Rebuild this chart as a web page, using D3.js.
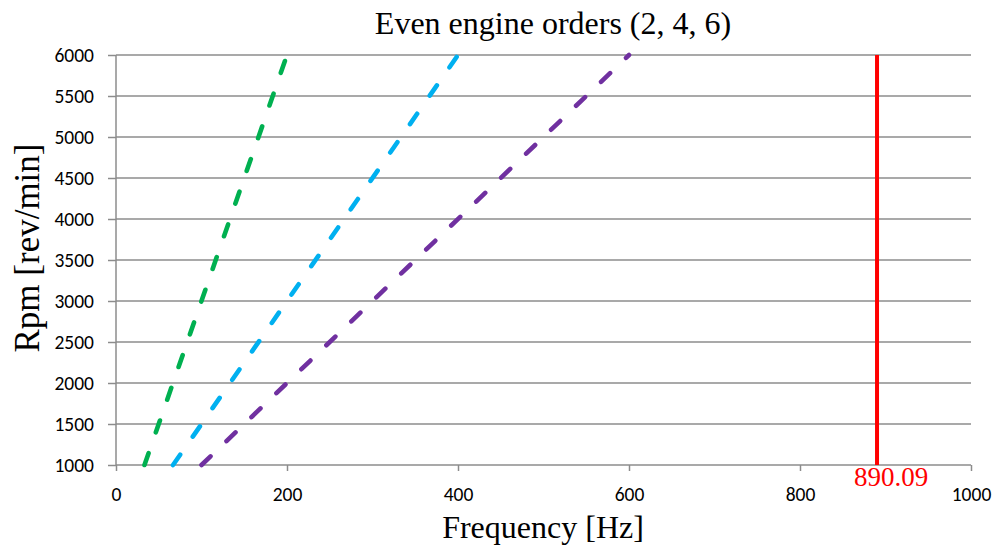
<!DOCTYPE html>
<html>
<head>
<meta charset="utf-8">
<script src="https://cdn.jsdelivr.net/npm/d3@7"></script>
<style>
  body { margin: 0; background: #fff; }
</style>
</head>
<body>
<div id="chart"></div>
<script>
// chart data
var rpm = [1000, 6000];
var order2Freq = [33.3, 200];
var order4Freq = [66.7, 400];
var order6Freq = [100, 600];
var limitFreq = 890.09;
var xTicks = [0, 200, 400, 600, 800, 1000];
var yTicks = [1000, 1500, 2000, 2500, 3000, 3500, 4000, 4500, 5000, 5500, 6000];

var series = [
    { name: "order 2", freq: order2Freq, color: "#00b050" },
    { name: "order 4", freq: order4Freq, color: "#00b0f0" },
    { name: "order 6", freq: order6Freq, color: "#7030a0" }
];

var svgWidth = 1000;
var svgHeight = 550;

var margin = { top: 55, right: 29, bottom: 85, left: 116 };
var chartWidth = svgWidth - margin.left - margin.right;
var chartHeight = svgHeight - margin.top - margin.bottom;

var svg = d3.select("#chart")
    .append("svg")
    .attr("width", svgWidth)
    .attr("height", svgHeight);

var chartGroup = svg.append("g")
    .attr("transform", `translate(${margin.left}, ${margin.top})`);

var xScale = d3.scaleLinear().domain([0, 1000]).range([0, chartWidth]);
var yScale = d3.scaleLinear().domain([1000, 6000]).range([chartHeight, 0]);

// horizontal gridlines
chartGroup.selectAll(".grid")
    .data(yTicks.slice(1))
    .enter()
    .append("line")
    .attr("x1", 0)
    .attr("x2", chartWidth)
    .attr("y1", d => yScale(d))
    .attr("y2", d => yScale(d))
    .attr("stroke", "#8c8c8c")
    .attr("stroke-width", 1.5);

// axes
var leftAxis = d3.axisLeft(yScale).tickValues(yTicks).tickFormat(d3.format("d"))
    .tickSize(8).tickPadding(14);
var bottomAxis = d3.axisBottom(xScale).tickValues(xTicks).tickFormat(d3.format("d"))
    .tickSize(6).tickPadding(16);

var yAxisG = chartGroup.append("g").call(leftAxis);
var xAxisG = chartGroup.append("g")
    .attr("transform", "translate(0, " + chartHeight + ")")
    .call(bottomAxis);

[yAxisG, xAxisG].forEach(function (g) {
    g.attr("font-size", null).attr("font-family", null);
    g.select(".domain").attr("stroke", "#8c8c8c").attr("stroke-width", 1.5);
    g.selectAll(".tick line").attr("stroke", "#8c8c8c").attr("stroke-width", 1.5);
    g.selectAll("text")
        .attr("fill", "#000")
        .style("font-family", "Carlito, 'Liberation Sans', Arial, sans-serif")
        .style("font-size", "19.5px");
});
yAxisG.select(".domain").attr("d", "M0," + chartHeight + "V0");
xAxisG.select(".domain").attr("d", "M0,0H" + chartWidth);

// dashed order lines
var line = d3.line()
    .x(d => xScale(d[0]))
    .y(d => yScale(d[1]));

chartGroup.selectAll(".order")
    .data(series)
    .enter()
    .append("path")
    .attr("d", s => line(s.freq.map((f, i) => [f, rpm[i]])))
    .attr("fill", "none")
    .attr("stroke", s => s.color)
    .attr("stroke-width", 4.6)
    .attr("stroke-linecap", "round")
    .attr("stroke-dasharray", "12.5,22.1");

// limit line
chartGroup.append("line")
    .attr("x1", xScale(limitFreq))
    .attr("x2", xScale(limitFreq))
    .attr("y1", yScale(6000))
    .attr("y2", yScale(1000))
    .attr("stroke", "#ff0000")
    .attr("stroke-width", 4);

chartGroup.append("text")
    .attr("x", xScale(limitFreq) + 14)
    .attr("y", chartHeight + 21)
    .attr("text-anchor", "middle")
    .attr("fill", "#ff0000")
    .style("font-family", "'Liberation Serif', 'Times New Roman', serif")
    .style("font-size", "27px")
    .text(limitFreq.toFixed(2));

// titles
svg.append("text")
    .attr("x", 553)
    .attr("y", 34)
    .attr("text-anchor", "middle")
    .style("font-family", "'Liberation Serif', 'Times New Roman', serif")
    .style("font-size", "32px")
    .text("Even engine orders (2, 4, 6)");

svg.append("text")
    .attr("x", 543)
    .attr("y", 538)
    .attr("text-anchor", "middle")
    .style("font-family", "'Liberation Serif', 'Times New Roman', serif")
    .style("font-size", "32px")
    .text("Frequency [Hz]");

svg.append("text")
    .attr("transform", "translate(39, 248) rotate(-90)")
    .attr("text-anchor", "middle")
    .style("font-family", "'Liberation Serif', 'Times New Roman', serif")
    .style("font-size", "35px")
    .text("Rpm [rev/min]");
</script>
</body>
</html>
